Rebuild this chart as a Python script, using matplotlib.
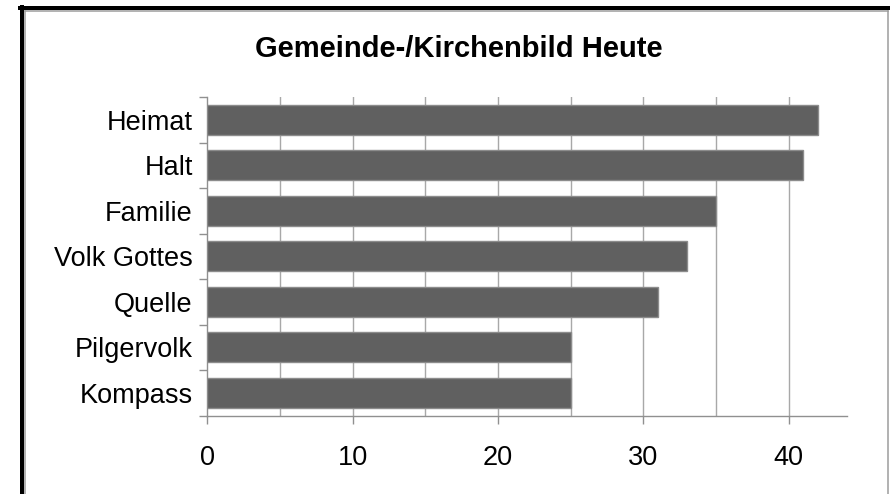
import matplotlib.pyplot as plt
from matplotlib.lines import Line2D

# data
categories = ["Heimat", "Halt", "Familie", "Volk Gottes", "Quelle", "Pilgervolk", "Kompass"]
values = [42, 41, 35, 33, 31, 25, 25]
x_ticks = [0, 10, 20, 30, 40]
title = "Gemeinde-/Kirchenbild Heute"

W, H = 890, 494
plt.rcParams['font.family'] = ['Liberation Sans', 'DejaVu Sans']

fig = plt.figure(figsize=(W / 100, H / 100), dpi=100)
fig.patch.set_facecolor('white')


def px(x, y):
    # pixel (from top-left) -> figure fraction
    return x / W, 1 - y / H


# axes placed by pixel positions
l, t = px(207.3, 97)
r, b = px(847, 415.5)
ax = fig.add_axes([l, b, r - l, t - b])

pos = list(range(len(categories)))
ax.barh(pos, values, height=0.66, color='#606060', edgecolor='#8c8c8c',
        linewidth=1, zorder=3)

ax.set_xlim(0, 44)
ax.set_ylim(len(categories) - 0.5, -0.5)

# gridlines every 5
for g in range(5, 45, 5):
    ax.axvline(g, color='#a8a8a8', lw=1, zorder=1)

ax.set_xticks(x_ticks)
ax.set_xticklabels([str(v) for v in x_ticks], fontsize=19.5)
ax.set_yticks(pos)
ax.set_yticklabels(categories, fontsize=19.5)
ax.tick_params(axis='y', length=0, pad=10.5)
ax.tick_params(axis='x', length=6, width=1, color='#909090', pad=15)

# category boundary ticks on the y axis
ax.set_yticks([p - 0.5 for p in pos] + [len(categories) - 0.5], minor=True)
ax.tick_params(axis='y', which='minor', length=6, width=1, color='#909090')

for s in ['top', 'right']:
    ax.spines[s].set_visible(False)
for s in ['left', 'bottom']:
    ax.spines[s].set_color('#909090')
    ax.spines[s].set_linewidth(1)

tx, ty = px(459, 49)
fig.text(tx, ty, title, ha='center', va='center', fontsize=21, fontweight='bold')

# outer frame: thick black left/top, thin gray inner lines
k = 72 / 100
fig.add_artist(Line2D(*zip(px(20, 8.5), px(890, 8.5)), color='black', lw=4 * k))
fig.add_artist(Line2D(*zip(px(22, 7), px(22, 494)), color='black', lw=4 * k))
fig.add_artist(Line2D(*zip(px(25, 11.5), px(888, 11.5)), color='#9a9a9a', lw=1.5 * k))
fig.add_artist(Line2D(*zip(px(25, 11.5), px(25, 494)), color='#9a9a9a', lw=1.5 * k))
fig.add_artist(Line2D(*zip(px(888, 11.5), px(888, 494)), color='#9a9a9a', lw=1.5 * k))

fig.savefig('out.png', dpi=100, facecolor='white')
